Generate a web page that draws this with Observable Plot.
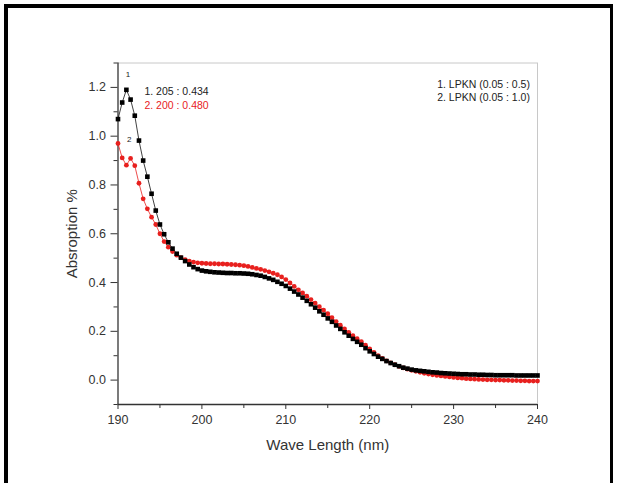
<!DOCTYPE html>
<html>
<head>
<meta charset="utf-8">
<script src="https://cdn.jsdelivr.net/npm/d3@7"></script>
<script src="https://cdn.jsdelivr.net/npm/@observablehq/plot@0.6"></script>
<style>
  html, body { margin: 0; padding: 0; background: #fff; }
  #wrap { position: relative; width: 620px; height: 483px; overflow: hidden; }
  #border { position: absolute; left: 4px; top: 4px; width: 602px; height: 490px;
            border-left: 4px solid #000; border-top: 4px solid #000; border-right: 3px solid #000; }
  svg { font-family: "Liberation Sans", Arial, sans-serif; }
</style>
</head>
<body>
<div id="wrap"><div id="border"></div></div>
<script>
const wavelength = [
  190.0,190.5,191.0,191.5,192.0,192.5,193.0,193.5,194.0,194.5,
  195.0,195.5,196.0,196.5,197.0,197.5,198.0,198.5,199.0,199.5,
  200.0,200.5,201.0,201.5,202.0,202.5,203.0,203.5,204.0,204.5,
  205.0,205.5,206.0,206.5,207.0,207.5,208.0,208.5,209.0,209.5,
  210.0,210.5,211.0,211.5,212.0,212.5,213.0,213.5,214.0,214.5,
  215.0,215.5,216.0,216.5,217.0,217.5,218.0,218.5,219.0,219.5,
  220.0,220.5,221.0,221.5,222.0,222.5,223.0,223.5,224.0,224.5,
  225.0,225.5,226.0,226.5,227.0,227.5,228.0,228.5,229.0,229.5,
  230.0,230.5,231.0,231.5,232.0,232.5,233.0,233.5,234.0,234.5,
  235.0,235.5,236.0,236.5,237.0,237.5,238.0,238.5,239.0,239.5,
  240.0
];
// Series 1: LPKN (0.05 : 0.5) — black squares
const series1 = [
  1.070,1.138,1.190,1.150,1.084,0.982,0.900,0.834,0.764,0.695,
  0.638,0.598,0.565,0.539,0.518,0.502,0.488,0.474,0.463,0.455,
  0.449,0.446,0.444,0.442,0.441,0.440,0.439,0.439,0.438,0.438,
  0.437,0.436,0.434,0.431,0.428,0.423,0.417,0.411,0.403,0.395,
  0.386,0.375,0.363,0.351,0.338,0.325,0.311,0.297,0.282,0.268,
  0.253,0.239,0.224,0.210,0.196,0.182,0.169,0.157,0.145,0.131,
  0.118,0.107,0.096,0.087,0.078,0.070,0.063,0.057,0.051,0.047,
  0.043,0.040,0.038,0.036,0.034,0.032,0.031,0.029,0.028,0.027,
  0.026,0.025,0.024,0.024,0.023,0.023,0.022,0.022,0.021,0.021,
  0.020,0.020,0.020,0.020,0.020,0.019,0.019,0.019,0.019,0.019,
  0.019
];
// Series 2: LPKN (0.05 : 1.0) — red circles
const series2 = [
  0.970,0.911,0.881,0.909,0.879,0.807,0.743,0.702,0.668,0.638,
  0.600,0.568,0.545,0.527,0.512,0.502,0.494,0.488,0.484,0.481,
  0.479,0.478,0.477,0.477,0.476,0.476,0.475,0.474,0.473,0.471,
  0.469,0.466,0.462,0.458,0.454,0.449,0.444,0.438,0.432,0.423,
  0.412,0.398,0.384,0.370,0.357,0.344,0.330,0.316,0.301,0.287,
  0.272,0.256,0.240,0.225,0.210,0.196,0.182,0.170,0.158,0.143,
  0.128,0.114,0.100,0.089,0.079,0.071,0.063,0.056,0.050,0.045,
  0.040,0.036,0.032,0.028,0.025,0.022,0.019,0.017,0.015,0.013,
  0.011,0.009,0.008,0.006,0.005,0.004,0.003,0.002,0.001,0.001,
  0.000,0.000,-0.001,-0.001,-0.002,-0.002,-0.003,-0.003,-0.004,-0.004,
  -0.004
];
const xMajorTicks = [190, 200, 210, 220, 230, 240];
const xMinorTicks = [195, 205, 215, 225, 235];
const yMajorTicks = [0.0, 0.2, 0.4, 0.6, 0.8, 1.0, 1.2];
const yMinorTicks = [-0.1, 0.1, 0.3, 0.5, 0.7, 0.9, 1.1, 1.3];
const legendLabels = ["1. LPKN (0.05 : 0.5)", "2. LPKN (0.05 : 1.0)"];
const peakLabels = ["1. 205 : 0.434", "2. 200 : 0.480"];
const curveTags = ["1", "2"];

const d1 = wavelength.map((w, i) => ({w, a: series1[i]}));
const d2 = wavelength.map((w, i) => ({w, a: series2[i]}));
const RED = "#e8201e";
const INK = "#333";

const chart = Plot.plot({
  width: 620,
  height: 483,
  marginLeft: 117.5,
  marginRight: 83,
  marginTop: 62.5,
  marginBottom: 79,
  style: {background: "transparent", fontFamily: "'Liberation Sans', Arial, sans-serif"},
  x: {domain: [190, 240]},
  y: {domain: [-0.1, 1.3]},
  marks: [
    Plot.ruleY([1.3], {stroke: "#c8c8c8", strokeWidth: 1}),
    Plot.ruleX([240], {stroke: "#c8c8c8", strokeWidth: 1}),
    Plot.axisX({ticks: xMajorTicks, tickSize: 5, tickPadding: 6, fontSize: 12.5, color: INK, label: "Wave Length (nm)", labelAnchor: "center", labelArrow: "none", labelOffset: 45, tickFormat: d => String(d)}),
    Plot.axisX({ticks: xMinorTicks, tickSize: 4, color: INK, label: null, text: null}),
    Plot.axisY({ticks: yMajorTicks, tickSize: 7, tickPadding: 5, fontSize: 12.5, color: INK, label: "Absroption %", labelAnchor: "center", labelArrow: "none", labelOffset: 52, tickFormat: d => d.toFixed(1)}),
    Plot.axisY({ticks: yMinorTicks, tickSize: 4, color: INK, label: null, text: null}),
    Plot.ruleX([190], {stroke: INK, strokeWidth: 1.3}),
    Plot.ruleY([-0.1], {stroke: INK, strokeWidth: 1.3}),
    Plot.line(d2, {x: "w", y: "a", stroke: RED, strokeWidth: 0.8}),
    Plot.line(d1, {x: "w", y: "a", stroke: "#111", strokeWidth: 0.8}),
    Plot.dot(d2, {x: "w", y: "a", r: 2.4, fill: RED, stroke: null, symbol: "circle"}),
    Plot.dot(d1, {x: "w", y: "a", r: 2.6, fill: "#000", stroke: null, symbol: "square"}),
    Plot.text([peakLabels[0]], {x: 193.15, y: 1.182, text: d => d, textAnchor: "start", fontSize: 10.5, fill: "#222"}),
    Plot.text([peakLabels[1]], {x: 193.15, y: 1.127, text: d => d, textAnchor: "start", fontSize: 10.5, fill: RED}),
    Plot.text([curveTags[0]], {x: 191.2, y: 1.252, text: d => d, fontSize: 8, fill: "#222"}),
    Plot.text([curveTags[1]], {x: 191.33, y: 0.986, text: d => d, fontSize: 8, fill: "#222"}),
    Plot.text([legendLabels[0]], {x: 239.1, y: 1.210, text: d => d, textAnchor: "end", fontSize: 10.5, fill: "#222"}),
    Plot.text([legendLabels[1]], {x: 239.1, y: 1.160, text: d => d, textAnchor: "end", fontSize: 10.5, fill: "#222"})
  ]
});
chart.style.position = "absolute";
chart.style.left = "0";
chart.style.top = "0";
chart.querySelectorAll('[aria-label="x-axis label"] text, [aria-label="y-axis label"] text').forEach(t => {
  t.setAttribute("font-size", "15");
  t.style.fontSize = "15px";
});
document.getElementById("wrap").appendChild(chart);
</script>
</body>
</html>
